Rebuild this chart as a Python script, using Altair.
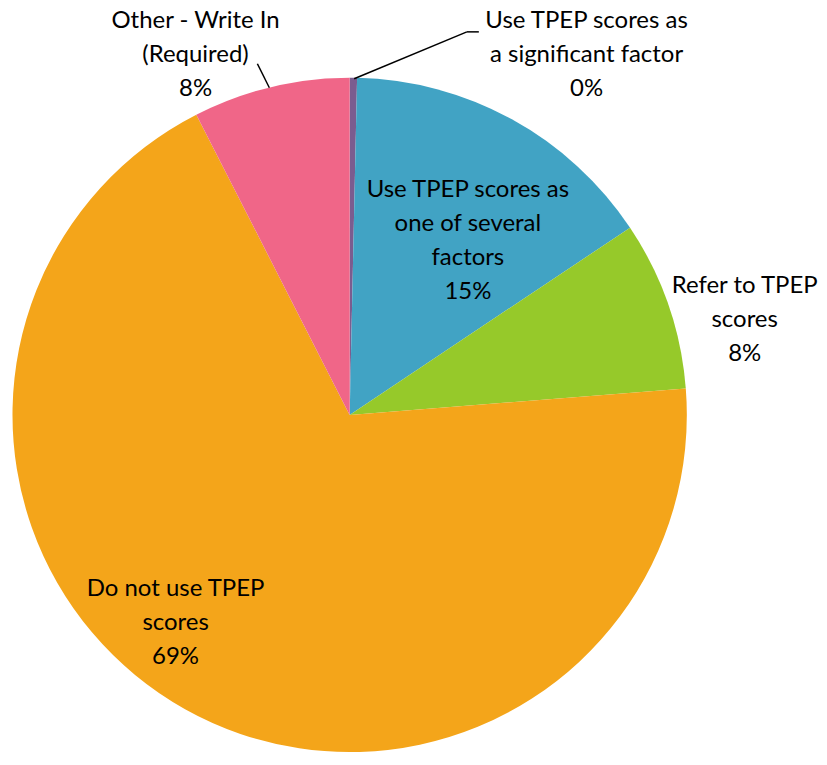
import altair as alt
import pandas as pd

categories = [
    "Use TPEP scores as a significant factor",
    "Use TPEP scores as one of several factors",
    "Refer to TPEP scores",
    "Do not use TPEP scores",
    "Other - Write In (Required)",
]
values = [0.35, 15.25, 8.1, 68.6, 7.5]
colors = ["#7B5C8F", "#41A3C4", "#96C92A", "#F4A51A", "#F06688"]

label_lines = [
    ["Use TPEP scores as", "a significant factor"],
    ["Use TPEP scores as", "one of several", "factors"],
    ["Refer to TPEP", "scores"],
    ["Do not use TPEP", "scores"],
    ["Other - Write In", "(Required)"],
]

total = sum(values)
pcts = [f"{round(v / total * 100)}%" for v in values]

df = pd.DataFrame({
    "category": categories,
    "value": values,
    "order": list(range(len(categories))),
})

FONT = "Lato"
FS = 24
LH = 34

pie = alt.Chart(df).mark_arc().encode(
    theta=alt.Theta("value:Q", stack=True),
    order=alt.Order("order:Q"),
    color=alt.Color("category:N", sort=categories,
                    scale=alt.Scale(domain=categories, range=colors), legend=None),
    x=alt.value(342.5),
    y=alt.value(407),
    radius=alt.value(338),
)

# label anchor positions (plot coordinates, centre x and first-line y)
label_pos = [(580, 12), (461, 182), (738.5, 278), (168, 582), (188, 12)]

layers = [pie]
for i, (cx, cy) in enumerate(label_pos):
    t = alt.Chart(pd.DataFrame({"lab": [label_lines[i] + [pcts[i]]]})).mark_text(
        font=FONT, fontSize=FS, lineHeight=LH, align="center", baseline="middle", color="#000000"
    ).encode(text="lab", x=alt.value(cx), y=alt.value(cy))
    layers.append(t)

# leader lines
lead_sig = alt.Chart(pd.DataFrame({"a": [0]})).mark_rule(color="black", strokeWidth=1.5).encode(
    x=alt.value(347), y=alt.value(70), x2=alt.value(460), y2=alt.value(23))
lead_sig2 = alt.Chart(pd.DataFrame({"a": [0]})).mark_rule(color="black", strokeWidth=1.5).encode(
    x=alt.value(460), y=alt.value(23), x2=alt.value(472), y2=alt.value(23))
lead_oth = alt.Chart(pd.DataFrame({"a": [0]})).mark_rule(color="black", strokeWidth=1.5).encode(
    x=alt.value(250), y=alt.value(55), x2=alt.value(262), y2=alt.value(79))
layers += [lead_sig, lead_sig2, lead_oth]

chart = alt.layer(*layers).properties(
    width=811, height=749, padding=0
).configure_view(stroke=None)

chart.save("out.html", embed_options={"renderer": "svg", "actions": False})
